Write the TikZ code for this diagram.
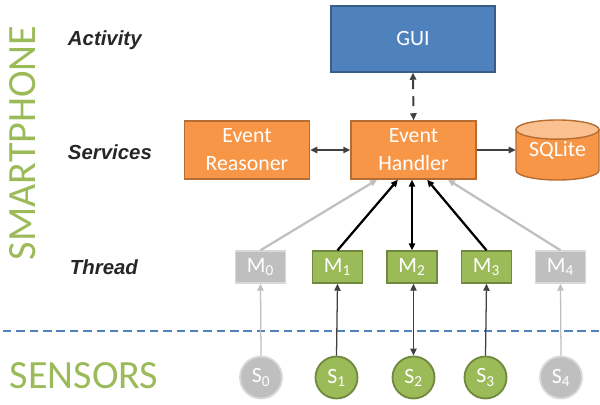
\documentclass[tikz,border=0pt]{standalone}
\usepackage{fontspec}
\setmainfont{Carlito}
\newfontfamily\layerfont{Liberation Sans}
\usetikzlibrary{arrows.meta, calc}

\definecolor{boxorange}{HTML}{F79646}
\definecolor{lineorange}{HTML}{B66D31}
\definecolor{toporange}{HTML}{FAC090}
\definecolor{boxblue}{HTML}{4F81BD}
\definecolor{lineblue}{HTML}{385D8A}
\definecolor{boxgreen}{HTML}{9BBB59}
\definecolor{linegreen}{HTML}{71893F}
\definecolor{boxgray}{HTML}{BFBFBF}
\definecolor{linegray}{HTML}{D9D9D9}
\definecolor{darkline}{HTML}{404040}
\definecolor{labeltext}{HTML}{262626}

\tikzset{
  boxtext/.style={text=white, font=\fontsize{15.5}{20}\selectfont, align=center, inner sep=0pt},
  service/.style={boxtext, draw=lineorange, fill=boxorange, line width=1pt,
    minimum width=3.125cm, minimum height=1.45cm},
  activity/.style={boxtext, draw=lineblue, fill=boxblue, line width=1pt,
    minimum width=4.1cm, minimum height=1.65cm},
  thread/.style={boxtext, draw=linegreen, fill=boxgreen, line width=1pt,
    minimum width=1.25cm, minimum height=0.8cm},
  offthread/.style={thread, draw=linegray, fill=boxgray},
  sensor/.style={boxtext, circle, draw=linegreen, fill=boxgreen, line width=1.3pt,
    minimum size=1.05cm},
  offsensor/.style={sensor, draw=linegray, fill=boxgray},
  layer/.style={anchor=west, text=labeltext, font=\layerfont\bfseries\itshape\fontsize{14.5}{17}\selectfont},
  side/.style={text=boxgreen, font=\fontsize{28.5}{32}\selectfont},
  tip/.style={-{Triangle[length=5pt, width=4.5pt]}},
  bothtip/.style={{Triangle[length=5pt, width=4.5pt]}-{Triangle[length=5pt, width=4.5pt]}},
  dbline/.style={draw=lineorange, line width=1pt},
}

\begin{document}
\begin{tikzpicture}[x=0.025cm, y=-0.025cm]
\useasboundingbox (0,0) rectangle (600,405);

% layer names
\node[side, rotate=90] (phone) at (23,143) {SMARTPHONE};
\node[side] (sensors) at (84,376) {SENSORS};
\node[layer] (lactivity) at (63,40) {Activity};
\node[layer] (lservices) at (63,152) {Services};
\node[layer] (lthread) at (65,267) {Thread};

% border phone / sensors
\draw[boxblue, line width=1pt, dash pattern=on 6pt off 3.5pt] (3,331) -- (600,331);

% boxes
\node[activity] (gui) at (413,39) {GUI};
\node[service] (handler) at (413.5,150) {Event\\Handler};
\node[service] (reasoner) at (247,150) {Event\\Reasoner};

% database drum
\coordinate (dbpos) at (557.5,150);
\filldraw[dbline, fill=boxorange] ([shift={(-1.0375cm,0.51cm)}]dbpos)
  -- ([shift={(-1.0375cm,-0.51cm)}]dbpos)
  arc[start angle=180, end angle=360, x radius=1.0375cm, y radius=0.24cm]
  -- ([shift={(1.0375cm,0.51cm)}]dbpos) -- cycle;
\filldraw[dbline, fill=toporange] ([yshift=0.51cm]dbpos) ellipse [x radius=1.0375cm, y radius=0.24cm];
\node[boxtext, minimum width=2.075cm, minimum height=1.5cm] (sqlite) at (dbpos)
  {\raisebox{-0.12cm}{SQLite}};

\node[offthread] (m0) at (260.5,267) {M\textsubscript{0}};
\node[thread] (m1) at (337.5,267) {M\textsubscript{1}};
\node[thread] (m2) at (412,267) {M\textsubscript{2}};
\node[thread] (m3) at (486.5,267) {M\textsubscript{3}};
\node[offthread] (m4) at (560.5,267) {M\textsubscript{4}};

\node[offsensor] (s0) at (261,377.5) {S\textsubscript{0}};
\node[sensor] (s1) at (336.5,377.5) {S\textsubscript{1}};
\node[sensor] (s2) at (413.5,377.5) {S\textsubscript{2}};
\node[sensor] (s3) at (485.5,377.5) {S\textsubscript{3}};
\node[offsensor] (s4) at (561,377.5) {S\textsubscript{4}};

% services
\draw[bothtip, darkline, line width=1.4pt, dash pattern=on 7pt off 5pt] (gui.south) -- (handler.north);
\draw[bothtip, darkline, line width=1.4pt] (reasoner.east) -- (handler.east -| handler.west);
\draw[tip, darkline, line width=1.4pt] (handler.east) -- (sqlite.west |- handler.east);

% threads to handler
\draw[tip, boxgray, line width=1.6pt] (m0.north) -- ([xshift=-0.91cm]handler.south);
\draw[tip, black, line width=1.6pt] (m1.north) -- ([xshift=-0.39cm]handler.south);
\draw[bothtip, black, line width=1.6pt] (m2.north) -- (m2.north |- handler.south);
\draw[tip, black, line width=1.6pt] (m3.north) -- ([xshift=0.34cm]handler.south);
\draw[tip, boxgray, line width=1.6pt] (m4.north) -- ([xshift=0.86cm]handler.south);

% sensors to threads
\draw[tip, boxgray, line width=0.9pt] (s0.north) -- (m0.south);
\draw[tip, darkline, line width=0.9pt] (s1.north) -- (m1.south);
\draw[bothtip, darkline, line width=0.9pt] (s2.north) -- (s2.north |- m2.south);
\draw[tip, darkline, line width=0.9pt] (s3.north) -- (m3.south);
\draw[tip, boxgray, line width=0.9pt] (s4.north) -- (m4.south);
\end{tikzpicture}
\end{document}
